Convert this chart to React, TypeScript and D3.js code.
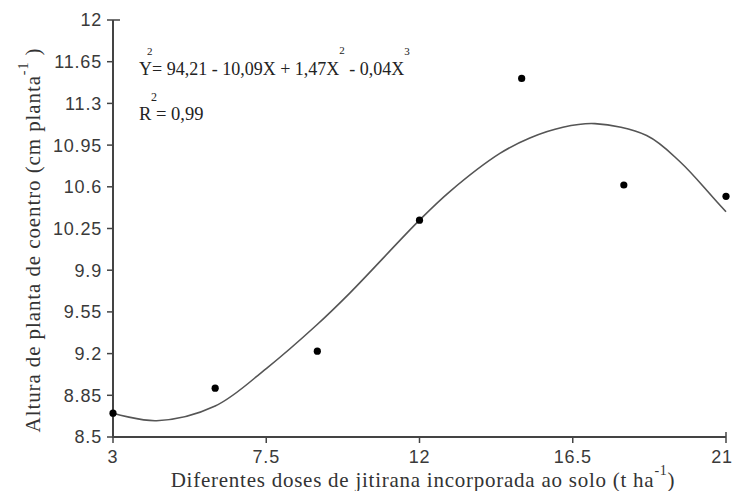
import React from "react";
import * as d3 from "d3";

const doses = [3, 6, 9, 12, 15, 18, 21];
const alturas = [8.7, 8.91, 9.22, 10.32, 11.51, 10.615, 10.52];

const curveDoses = [3, 4.28, 6, 7.51, 8.98, 9.96, 12, 12.89, 14.36, 15.24, 16.21, 17.15, 18.67, 19.65, 20.62, 21];
const curveAlturas = [8.7, 8.637, 8.76, 9.077, 9.44, 9.71, 10.32, 10.56, 10.88, 11.01, 11.1, 11.13, 11.03, 10.81, 10.51, 10.39];

const yTicks = [8.5, 8.85, 9.2, 9.55, 9.9, 10.25, 10.6, 10.95, 11.3, 11.65, 12];
const yTickLabels = ["8.5", "8.85", "9.2", "9.55", "9.9", "10.25", "10.6", "10.95", "11.3", "11.65", "12"];
const xTicks = [3, 7.5, 12, 16.5, 21];
const xTickLabels = ["3", "7.5", "12", "16.5", "21"];

const W = 734;
const H = 491;
const left = 113;
const right = 726;
const top = 20;
const bottom = 437;

export default function App() {
  const x = d3.scaleLinear().domain([3, 21]).range([left, right]);
  const y = d3.scaleLinear().domain([8.5, 12]).range([bottom, top]);
  const line = d3
    .line<number>()
    .x((_, i) => x(curveDoses[i]))
    .y((d) => y(d))
    .curve(d3.curveCatmullRom.alpha(0.5));
  const axisColor = "#444";
  const sans = "Liberation Sans, Arial, sans-serif";
  const serif = "Liberation Serif, Times New Roman, serif";
  return (
    <svg width={W} height={H} style={{ position: "absolute", left: 0, top: 0 }}>
      <rect width={W} height={H} fill="#fff" />
      {/* axes */}
      <line x1={left} y1={top} x2={left} y2={bottom + 1} stroke={axisColor} strokeWidth={2} />
      <line x1={left} y1={bottom} x2={right} y2={bottom} stroke={axisColor} strokeWidth={2} />
      {yTicks.map((t, i) => (
        <g key={"yt" + i}>
          <line
            x1={left - 6}
            x2={i === yTicks.length - 1 ? left + 7 : left}
            y1={y(t)}
            y2={y(t)}
            stroke={axisColor}
            strokeWidth={1.5}
          />
          <text
            x={left - 11}
            y={y(t)}
            dy="0.36em"
            textAnchor="end"
            fontFamily={sans}
            fontSize={18}
            letterSpacing={0.8}
            fill="#3a3a3a"
          >
            {yTickLabels[i]}
          </text>
        </g>
      ))}
      {xTicks.map((t, i) => (
        <g key={"xt" + i}>
          <line
            x1={x(t)}
            x2={x(t)}
            y1={i === xTicks.length - 1 ? bottom - 5 : bottom - 1}
            y2={bottom + 6}
            stroke={axisColor}
            strokeWidth={1.5}
          />
          <text
            x={i === xTicks.length - 1 ? x(t) - 4 : x(t)}
            y={463}
            textAnchor="middle"
            fontFamily={sans}
            fontSize={18}
            letterSpacing={0.8}
            fill="#3a3a3a"
          >
            {xTickLabels[i]}
          </text>
        </g>
      ))}
      {/* fitted curve */}
      <path d={line(curveAlturas) || ""} fill="none" stroke="#555" strokeWidth={1.6} />
      {/* points */}
      {doses.map((d, i) => (
        <circle key={"p" + i} cx={x(d)} cy={y(alturas[i])} r={3.6} fill="#000" />
      ))}
      {/* equation */}
      <text x={139} y={75} fontFamily={serif} fontSize={18} fill="#222">
        Y= 94,21 - 10,09X + 1,47X
        <tspan dy={-21} fontSize={11}>2</tspan>
        <tspan dy={21}> - 0,04X</tspan>
        <tspan dy={-20} fontSize={11}>3</tspan>
      </text>
      <text x={147} y={55} fontFamily={serif} fontSize={11} fill="#222">2</text>
      <text x={139} y={120} fontFamily={serif} fontSize={18.5} fill="#222">
        R = 0,99
      </text>
      <text x={151} y={101} fontFamily={serif} fontSize={12} fill="#222">2</text>
      {/* y title */}
      <text
        transform="translate(40,240) rotate(-90)"
        textAnchor="middle"
        fontFamily={serif}
        fontSize={21}
        letterSpacing={0.9}
        fill="#333"
      >
        Altura de planta de coentro (cm planta
        <tspan dy={-12} fontSize={14}>-1</tspan>
        <tspan dy={12}> )</tspan>
      </text>
      {/* x title */}
      <text
        x={423}
        y={487}
        textAnchor="middle"
        fontFamily={serif}
        fontSize={21}
        letterSpacing={0.75}
        fill="#333"
      >
        Diferentes doses de jitirana incorporada ao solo (t ha
        <tspan dy={-12} fontSize={14}>-1</tspan>
        <tspan dy={12}>)</tspan>
      </text>
    </svg>
  );
}
